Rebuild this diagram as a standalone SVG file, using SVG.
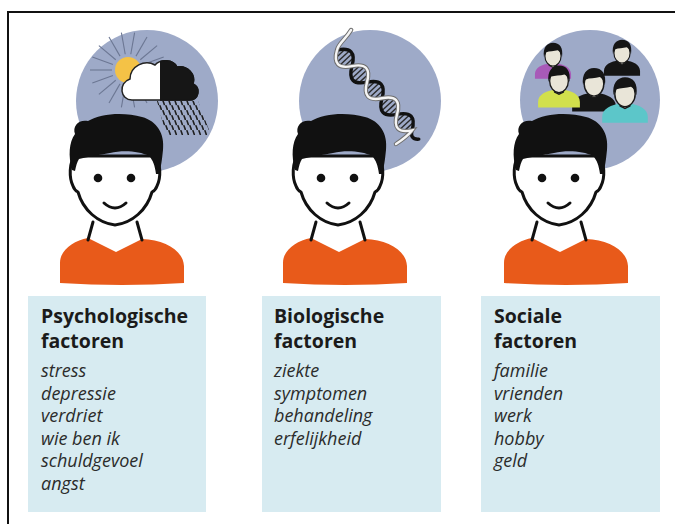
<svg xmlns="http://www.w3.org/2000/svg" xmlns:xlink="http://www.w3.org/1999/xlink" width="675" height="524" viewBox="0 0 675 524">
  <defs>
    <style>
      .halo{fill:#9eaac8}
      .panel{fill:#d7ebf1}
      .title{font-family:"Open Sans","Liberation Sans",sans-serif;font-weight:700;font-size:19.5px;fill:#1b1b1b}
      .item{font-family:"Open Sans","Liberation Sans",sans-serif;font-style:italic;font-size:18px;fill:#2b2b2b}
      .ink{fill:none;stroke:#111;stroke-width:3;stroke-linecap:round;stroke-linejoin:round}
      .shirt{fill:#e85a1a}
      .face{fill:#fff;stroke:#111;stroke-width:3;stroke-linejoin:round}
      .hair{fill:#111}
      .ray{stroke:#6c7793;stroke-width:1.1}
      .mface{fill:#e9e5d8;stroke:#1a1a1a;stroke-width:1.2}
      .mhair{fill:#151515}
      .rung{stroke:#2a2a2a;stroke-width:1.4}
    </style>
    <!-- smiling boy, centred on x = 0 -->
    <g id="boy">
      <path class="shirt" d="M -55 283 L -55 263 C -55 250 -42 241 -27 238 L 1 252 L 27 239 C 50 240 68 250 69 266 L 69 283 Q 7 287 -55 283 Z"/>
      <path class="ink" d="M -22 222 L -27 240 M 22 222 L 27 240"/>
      <path class="face" d="M -40 156 C -46 162 -46 178 -42 186 C -41 189 -39 191 -37 192 C -32 210 -17 223 0 225 C 17 223 32 210 37 192 C 39 191 41 189 42 186 C 46 178 46 162 40 156 Z"/>
      <path class="hair" d="M -43 170 C -47 156 -46 142 -40 134 C -43 126 -36 119 -27 121 C -14 113 10 112 27 117 C 42 121 50 134 48 150 C 47 160 46 167 44 174 L 41 174 C 40 166 38 160 34 156 C 24 151 8 150 -5 153 C -16 155 -28 157 -36 159 C -38 162 -39 166 -40 171 Z"/>
      <circle cx="-17" cy="178" r="4.3" fill="#111"/>
      <circle cx="16" cy="178" r="4.3" fill="#111"/>
      <path class="ink" d="M -11 203 Q 0 213 11 203"/>
    </g>
    <!-- small person for the group icon, head centred on 0,0 -->
    <g id="mini">
      <path class="mface" d="M -4 6 L -4 10 L 0 12 L 4 10 L 4 6 Z"/>
      <ellipse class="mface" cx="0" cy="0" rx="8.5" ry="10.5"/>
      <path class="mhair" d="M -9.5 1 C -11 -9 -6 -14 0 -14 C 7 -14 11 -9 9.5 1 C 8.5 -3 7 -5 5 -6 C 1 -5 -4 -5 -7 -4 C -8.5 -2 -9 -1 -9.5 1 Z"/>
    </g>
    <path id="mshirt" d="M -19 24 L -19 19 C -19 12 -11 9 -4 8 L 0 11 L 4 8 C 11 9 19 12 19 19 L 19 24 Z"/>
    <pattern id="rain" width="6" height="10" patternUnits="userSpaceOnUse">
      <path d="M1 0.8 L2.3 4.4 M4 5.8 L5.3 9.4" stroke="#1e1e1e" stroke-width="1.6" stroke-linecap="round"/>
    </pattern>
    <clipPath id="darkHalf">
      <rect x="160" y="50" width="50" height="60"/>
    </clipPath>
    <path id="strandW" d="M -5 -24 C -2 -14 -4 -6 0 0 Q 11 18 22 0 T 44 0 T 66 0 T 88 0 T 110 0 C 111 7 110 15 109 21"/>
  </defs>

  <rect width="675" height="524" fill="#fff"/>

  <!-- frame -->
  <path d="M 8 524 L 8 12 L 675 12" fill="none" stroke="#111" stroke-width="2"/>

  <!-- psychological factors -->
  <g id="psychologisch">
    <circle class="halo" cx="147" cy="101" r="71"/>
    <g transform="translate(128,70)">
      <line class="ray" x1="16" y1="0" x2="38" y2="0" transform="rotate(0)"/>
      <line class="ray" x1="16" y1="0" x2="38" y2="0" transform="rotate(20)"/>
      <line class="ray" x1="16" y1="0" x2="38" y2="0" transform="rotate(40)"/>
      <line class="ray" x1="16" y1="0" x2="38" y2="0" transform="rotate(60)"/>
      <line class="ray" x1="16" y1="0" x2="38" y2="0" transform="rotate(80)"/>
      <line class="ray" x1="16" y1="0" x2="38" y2="0" transform="rotate(100)"/>
      <line class="ray" x1="16" y1="0" x2="38" y2="0" transform="rotate(120)"/>
      <line class="ray" x1="16" y1="0" x2="38" y2="0" transform="rotate(140)"/>
      <line class="ray" x1="16" y1="0" x2="38" y2="0" transform="rotate(160)"/>
      <line class="ray" x1="16" y1="0" x2="38" y2="0" transform="rotate(180)"/>
      <line class="ray" x1="16" y1="0" x2="38" y2="0" transform="rotate(200)"/>
      <line class="ray" x1="16" y1="0" x2="38" y2="0" transform="rotate(220)"/>
      <line class="ray" x1="16" y1="0" x2="38" y2="0" transform="rotate(240)"/>
      <line class="ray" x1="16" y1="0" x2="38" y2="0" transform="rotate(260)"/>
      <line class="ray" x1="16" y1="0" x2="38" y2="0" transform="rotate(280)"/>
      <line class="ray" x1="16" y1="0" x2="38" y2="0" transform="rotate(300)"/>
      <line class="ray" x1="16" y1="0" x2="38" y2="0" transform="rotate(320)"/>
      <line class="ray" x1="16" y1="0" x2="38" y2="0" transform="rotate(340)"/>
      <circle cx="0" cy="0" r="13" fill="#f4c246"/>
    </g>
    <polygon points="157,101 198,101 211,135 166,135" fill="url(#rain)"/>
    <path d="M 132 100 C 120 100 118 83 130 79 C 130 66 145 59 155 65 C 160 59 173 59 177 67 C 187 65 196 74 193 84 C 201 88 199 100 189 100 Z" fill="#fff" stroke="#222" stroke-width="1.5"/>
    <path clip-path="url(#darkHalf)" d="M 132 100 C 120 100 118 83 130 79 C 130 66 145 59 155 65 C 160 59 173 59 177 67 C 187 65 196 74 193 84 C 201 88 199 100 189 100 Z" fill="#161616" stroke="#161616" stroke-width="1.5"/>
    <use href="#boy" xlink:href="#boy" transform="translate(115,0)"/>
    <rect class="panel" x="28" y="296" width="178" height="216"/>
    <text class="title" x="41" y="323">Psychologische</text>
    <text class="title" x="41" y="348">factoren</text>
    <text class="item" x="41" y="377">stress</text>
    <text class="item" x="41" y="399.5">depressie</text>
    <text class="item" x="41" y="422">verdriet</text>
    <text class="item" x="41" y="444.5">wie ben ik</text>
    <text class="item" x="41" y="467">schuldgevoel</text>
    <text class="item" x="41" y="489.5">angst</text>
  </g>

  <!-- biological factors -->
  <g id="biologisch">
    <circle class="halo" cx="370" cy="101" r="71"/>
    <g transform="translate(337,50) rotate(47)">
      <g class="rung">
        <line x1="5" y1="-6" x2="5" y2="6"/><line x1="9" y1="-8.3" x2="9" y2="8.3"/><line x1="13" y1="-8.3" x2="13" y2="8.3"/><line x1="17" y1="-6" x2="17" y2="6"/>
        <line x1="27" y1="-6" x2="27" y2="6"/><line x1="31" y1="-8.3" x2="31" y2="8.3"/><line x1="35" y1="-8.3" x2="35" y2="8.3"/><line x1="39" y1="-6" x2="39" y2="6"/>
        <line x1="49" y1="-6" x2="49" y2="6"/><line x1="53" y1="-8.3" x2="53" y2="8.3"/><line x1="57" y1="-8.3" x2="57" y2="8.3"/><line x1="61" y1="-6" x2="61" y2="6"/>
        <line x1="71" y1="-6" x2="71" y2="6"/><line x1="75" y1="-8.3" x2="75" y2="8.3"/><line x1="79" y1="-8.3" x2="79" y2="8.3"/><line x1="83" y1="-6" x2="83" y2="6"/>
        <line x1="93" y1="-6" x2="93" y2="6"/><line x1="97" y1="-8.3" x2="97" y2="8.3"/><line x1="101" y1="-8.3" x2="101" y2="8.3"/><line x1="105" y1="-6" x2="105" y2="6"/>
      </g>
      <path d="M 0 0 Q 11 -18 22 0 T 44 0 T 66 0 T 88 0 T 110 0 C 113 5 117 6 121 1" fill="none" stroke="#111" stroke-width="3.4" stroke-linecap="round"/>
      <use href="#strandW" xlink:href="#strandW" fill="none" stroke="#6f6f6f" stroke-width="4.4" stroke-linecap="round"/>
      <use href="#strandW" xlink:href="#strandW" fill="none" stroke="#f5f5f5" stroke-width="2.4" stroke-linecap="round"/>
    </g>
    <use href="#boy" xlink:href="#boy" transform="translate(338,0)"/>
    <rect class="panel" x="262" y="296" width="179" height="216"/>
    <text class="title" x="274" y="323">Biologische</text>
    <text class="title" x="274" y="348">factoren</text>
    <text class="item" x="274" y="377">ziekte</text>
    <text class="item" x="274" y="399.5">symptomen</text>
    <text class="item" x="274" y="422">behandeling</text>
    <text class="item" x="274" y="444.5">erfelijkheid</text>
  </g>

  <!-- social factors -->
  <g id="sociaal">
    <circle class="halo" cx="590" cy="100" r="70"/>
    <g transform="translate(553,56) scale(0.95)">
      <use href="#mshirt" xlink:href="#mshirt" fill="#a85ab8"/>
      <use href="#mini" xlink:href="#mini"/>
    </g>
    <g transform="translate(622,53) scale(0.95)">
      <use href="#mshirt" xlink:href="#mshirt" fill="#151515"/>
      <use href="#mini" xlink:href="#mini"/>
    </g>
    <g transform="translate(594,84) scale(1.15)">
      <use href="#mshirt" xlink:href="#mshirt" fill="#151515"/>
      <use href="#mini" xlink:href="#mini"/>
    </g>
    <g transform="translate(559,81) scale(1.1)">
      <use href="#mshirt" xlink:href="#mshirt" fill="#d2e04c"/>
      <use href="#mini" xlink:href="#mini"/>
    </g>
    <g transform="translate(625,94) scale(1.2)">
      <use href="#mshirt" xlink:href="#mshirt" fill="#5cc6c9"/>
      <use href="#mini" xlink:href="#mini"/>
    </g>
    <use href="#boy" xlink:href="#boy" transform="translate(559,0)"/>
    <rect class="panel" x="481" y="296" width="179" height="216"/>
    <text class="title" x="494" y="323">Sociale</text>
    <text class="title" x="494" y="348">factoren</text>
    <text class="item" x="494" y="377">familie</text>
    <text class="item" x="494" y="399.5">vrienden</text>
    <text class="item" x="494" y="422">werk</text>
    <text class="item" x="494" y="444.5">hobby</text>
    <text class="item" x="494" y="467">geld</text>
  </g>
</svg>
